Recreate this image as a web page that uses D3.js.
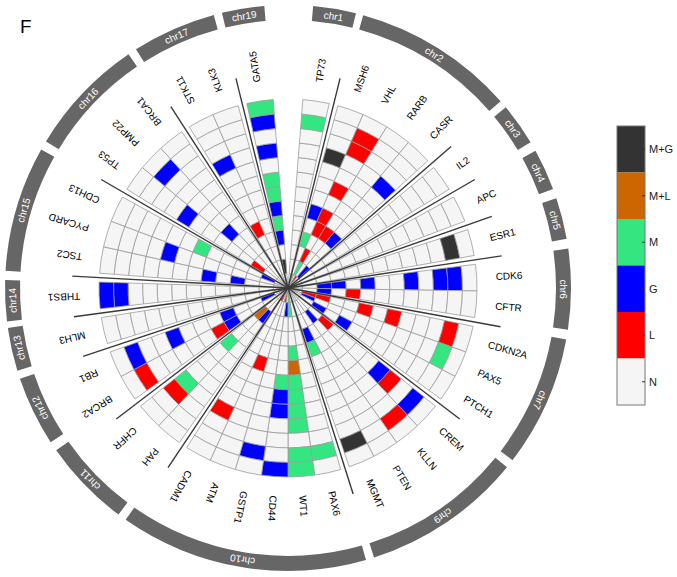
<!DOCTYPE html>
<html><head><meta charset="utf-8">
<script src="https://cdn.jsdelivr.net/npm/d3@7"></script>
<style>body{margin:0;background:#fff;} svg{display:block;font-family:"Liberation Sans",Arial,sans-serif;}</style>
</head><body><svg id="c" width="677" height="577"></svg>
<script>
// ---- data ----
const genes = ["TP73","MSH6","VHL","RARB","CASR","IL2","APC","ESR1","CDK6","CFTR","CDKN2A","PAX5","PTCH1","CREM","KLLN","PTEN","MGMT","PAX6","WT1","CD44","GSTP1","ATM","CADM1","PAH","CHFR","BRCA2","RB1","MLH3","THBS1","TSC2","PYCARD","CDH13","TP53","PMP22","BRCA1","STK11","KLK3","GATA5"];
const geneGroup = [1,2,2,2,2,3,4,5,6,6,7,7,7,8,8,8,8,9,9,9,9,9,9,10,10,11,11,12,13,14,14,14,15,15,15,16,16,17];
// status per sample ring, inner (1) -> outer (13); . = N, L, G, M, O = M+L, D = M+G
const geneStatus = [
"...........M.", // TP73
"M..M.G...D...", // MSH6
".ML.LL.L..LL.", // VHL
"L...L........", // RARB
".G..G....G...", // CASR
".............", // IL2
".............", // APC
"...........D.", // ESR1
"..GG.G..G.GG.", // CDK6
"..G.L........", // CFTR
".LL..L.L...L.", // CDKN2A
".G.........M.", // PAX5
"..G.G........", // PTCH1
"...L....GL.G.", // CREM
"..G........L.", // KLLN
".............", // PTEN
"...GM......D.", // MGMT
"...........M.", // PAX6
"MM..MOMMMM.MM", // WT1
".G....MGG...G", // CD44
"L..........G.", // GSTP1
".....L.......", // ATM
"L........L...", // CADM1
"..G..........", // PAH
"..O..M...ML..", // CHFR
"....GL.....L.", // BRCA2
".G..G...G..G.", // RB1
".............", // MLH3
"...........GG", // THBS1
"...G.G.......", // TSC2
"........G....", // PYCARD
".G....M......", // CDH13
"..L.....G....", // TP53
".....G.....G.", // PMP22
".............", // BRCA1
"....L....G...", // STK11
".............", // KLK3
".D.GMGMM.G.GM"  // GATA5
];
const statusCodes  = [".","L","G","M","O","D"];
const statusNames  = ["N","L","G","M","M+L","M+G"];
const statusColors = ["#f5f5f5","#ff0000","#0000ff","#33e680","#cc6600","#333333"];
const legendOrder  = ["M+G","M+L","M","G","L","N"];
const chromNames = ["chr1","chr2","chr3","chr4","chr5","chr6","chr7","chr9","chr10","chr11","chr12","chr13","chr14","chr15","chr16","chr17","chr19"];
const chromStart = [5.1,15.4,50.3,61,71.5,82,100.5,129.3,164,216.8,237,253,263.2,273.5,301.2,327.5,346.5];
const chromEnd   = [13.9,48.7,59,69.5,80,98.5,127.5,162.3,215,235,251.3,261.9,271.6,299.3,325.7,344.8,355.2];
const nRings = 13;

// ---- layout ----
const cx = 288, cy = 288, R = 189;
const rad = d => d * Math.PI / 180;
const svg = d3.select("#c");
const g = svg.append("g").attr("transform", `translate(${cx},${cy})`);
const rScale = d3.scaleLinear().domain([0, nRings]).range([0, R]);
const gapUnits = 1/3;
const pos = []; let u = 0;
genes.forEach((gn, i) => { if (i > 0 && geneGroup[i] !== geneGroup[i-1]) u += gapUnits; pos.push(u); u += 1; });
const aScale = d3.scaleLinear().domain([0, u]).range([4.5, 355.5]);
const color = d3.scaleOrdinal().domain(statusCodes).range(statusColors);
const colorByName = d3.scaleOrdinal().domain(statusNames).range(statusColors);

const cells = [];
genes.forEach((gn, i) => {
  for (let k = 0; k < nRings; k++) cells.push({gene: i, ring: k, code: geneStatus[i][k]});
});
const cellArc = d3.arc()
  .innerRadius(d => rScale(d.ring)).outerRadius(d => rScale(d.ring + 1))
  .startAngle(d => rad(aScale(pos[d.gene]))).endAngle(d => rad(aScale(pos[d.gene] + 1)));
g.append("g").selectAll("path").data(cells).join("path")
  .attr("d", cellArc).attr("fill", d => color(d.code))
  .attr("stroke", "#9c9c9c").attr("stroke-width", 0.8);

// group separator lines
const sepAngles = [];
genes.forEach((gn, i) => { if (i > 0 && geneGroup[i] !== geneGroup[i-1]) sepAngles.push(aScale(pos[i] - gapUnits/2)); });
g.append("g").selectAll("line").data(sepAngles).join("line")
  .attr("x1", 0).attr("y1", 0)
  .attr("x2", a => 216 * Math.sin(rad(a))).attr("y2", a => -216 * Math.cos(rad(a)))
  .attr("stroke", "#3a3a3a").attr("stroke-width", 1.4);

// gene labels
g.append("g").selectAll("text").data(genes).join("text")
  .attr("transform", (d, i) => { const a = aScale(pos[i] + 0.5); return `rotate(${a - 90}) translate(208,0)`; })
  .attr("dominant-baseline", "central").attr("font-size", 10).attr("fill", "#000")
  .text(d => d);

// chromosome arcs
const chromArc = d3.arc().innerRadius(268).outerRadius(283)
  .startAngle((d, i) => rad(chromStart[i])).endAngle((d, i) => rad(chromEnd[i]));
const cg = g.append("g");
cg.selectAll("path").data(chromNames).join("path").attr("d", chromArc).attr("fill", "#666");
cg.selectAll("text").data(chromNames).join("text")
  .attr("transform", (d, i) => { const a = (chromStart[i] + chromEnd[i]) / 2; return `rotate(${a}) translate(0,-275.5)`; })
  .attr("text-anchor", "middle").attr("dominant-baseline", "central")
  .attr("font-size", 10).attr("fill", "#fff").text(d => d);

// panel letter
svg.append("text").attr("x", 20).attr("y", 33).attr("font-size", 19).text("F");

// legend
const ly = d3.scaleBand().domain(legendOrder).range([126, 405]);
const lg = svg.append("g");
lg.selectAll("rect").data(legendOrder).join("rect")
  .attr("x", 617).attr("y", d => ly(d)).attr("width", 28).attr("height", ly.bandwidth())
  .attr("fill", d => colorByName(d));
lg.append("rect").attr("x", 617).attr("y", 126).attr("width", 28).attr("height", 279)
  .attr("fill", "none").attr("stroke", "#777").attr("stroke-width", 1);
lg.selectAll("line").data(legendOrder).join("line")
  .attr("x1", 642).attr("x2", 645).attr("y1", d => ly(d) + ly.bandwidth()/2).attr("y2", d => ly(d) + ly.bandwidth()/2)
  .attr("stroke", "#333");
lg.selectAll("text").data(legendOrder).join("text")
  .attr("x", 649).attr("y", d => ly(d) + ly.bandwidth()/2).attr("dominant-baseline", "central")
  .attr("font-size", 11).attr("fill", "#222").text(d => d);
</script></body></html>
